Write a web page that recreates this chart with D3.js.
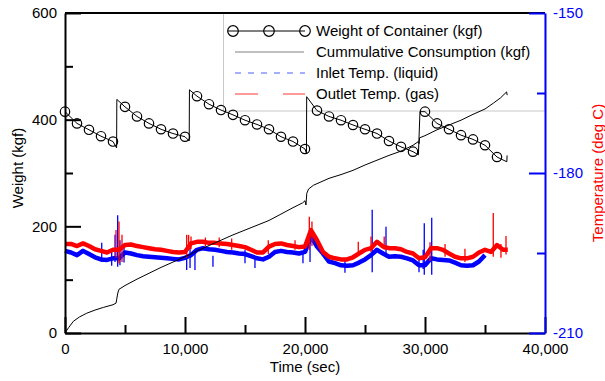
<!DOCTYPE html>
<html>
<head>
<meta charset="utf-8">
<script src="https://cdn.jsdelivr.net/npm/d3@7"></script>
<style>
  body { margin: 0; background: #fff; }
  svg { font-family: "Liberation Sans", Arial, sans-serif; }
</style>
</head>
<body>
<svg id="chart" width="605" height="381"></svg>
<script>
// weight of container (kgf): [time, weight]; markers sit on every 1000 s sample
const weightPoints = [
  [0, 415], [1000, 393], [2000, 381], [3000, 369], [4000, 359], [4300, 347],
  [4320, 438], [5000, 424], [6000, 406], [7000, 393], [8000, 382], [9000, 374],
  [10000, 368], [10350, 360], [10370, 456], [11000, 444], [12000, 429], [13000, 418],
  [14000, 409], [15000, 399], [16000, 391], [17000, 382], [18000, 368], [19000, 359],
  [20000, 345], [20120, 337], [20140, 443], [21000, 417], [22000, 406], [23000, 399],
  [24000, 390], [25000, 382], [26000, 374], [27000, 360], [28000, 349], [29000, 340],
  [29450, 334], [29580, 415], [30000, 415], [31000, 393], [32000, 382], [33000, 371],
  [34000, 363], [35000, 352], [36000, 330], [36820, 321], [36840, 333]
];

// cummulative consumption (kgf): [time, kgf]
const consumption = [
  [0, 0], [300, 10], [700, 22], [1200, 30], [1800, 37], [2500, 43], [3200, 48],
  [4000, 53], [4250, 56], [4300, 62], [4400, 75], [4500, 82], [5000, 89], [6000, 101],
  [7000, 112], [8000, 123], [9000, 133], [10000, 143], [10500, 148], [11000, 154],
  [12000, 164], [13000, 174], [14000, 184], [15000, 193], [16000, 202], [17000, 211],
  [18000, 223], [19000, 235], [19800, 244], [20000, 248], [20080, 240], [20150, 262],
  [20300, 270], [20700, 277], [21500, 285], [22000, 290], [23000, 297], [24000, 305],
  [25000, 315], [26000, 324], [27000, 333], [28000, 341], [29000, 352], [29450, 359],
  [29500, 355], [29550, 366], [30000, 370], [31000, 381], [32000, 390], [33000, 399],
  [34000, 410], [35000, 420], [35700, 431], [36300, 441], [36800, 452], [36850, 446]
];

// temperatures (deg C) read every 500 s
const tempStep = 500;
const inletTemp = [
  -194.6, -194.9, -195.4, -194.6, -195.2, -195.8, -196.2, -196.3, -196.0, -196.0,
  -194.9, -195.1, -195.4, -195.6, -195.7, -195.8, -195.9, -196.0, -196.1, -196.2,
  -195.9, -195.4, -194.4, -194.1, -194.3, -194.4, -194.6, -194.8, -194.9, -195.1,
  -195.2, -195.6, -196.0, -196.2, -195.7, -194.8, -194.6, -194.8, -194.9, -195.1,
  -194.8, -191.9, -193.8, -195.1, -196.6, -196.9, -197.3, -197.4, -197.3, -196.8,
  -196.2, -195.4, -194.4, -195.1, -195.7, -195.6, -195.7, -196.0, -196.4, -197.3,
  -197.3, -196.0, -196.2, -196.3, -196.4, -196.8, -197.3, -197.4, -197.3, -196.6,
  -195.4
];
const outletTemp = [
  -193.3, -193.3, -193.7, -193.2, -193.7, -194.3, -194.6, -194.9, -194.4, -194.4,
  -193.5, -193.4, -193.7, -193.9, -194.1, -194.3, -194.4, -194.6, -194.8, -194.9,
  -194.8, -193.2, -192.9, -192.9, -193.1, -193.1, -193.2, -193.3, -193.5, -193.7,
  -193.9, -194.4, -194.9, -194.9, -193.8, -193.3, -193.2, -193.5, -193.7, -193.9,
  -193.8, -190.7, -192.6, -194.8, -195.7, -196.0, -196.2, -196.2, -195.8, -195.1,
  -194.4, -194.1, -192.9, -193.8, -194.1, -194.1, -194.3, -194.8, -195.1, -196.0,
  -195.8, -194.1, -194.1, -194.4, -195.1, -195.7, -196.0, -196.0, -195.7, -194.9,
  -194.4, -194.8, -193.5, -194.4
];
const outletEnd = [36900, -194.4];

// spikes: [time, low, high]
const inletSpikes = [
  [3060, -196.7, -193.1], [3890, -197.4, -194.4], [4170, -196.7, -191.6], [4390, -197.6, -187.9],
  [4580, -197.3, -192.6], [4920, -196.8, -193.8], [10140, -198.2, -195.8], [10420, -197.8, -194.0],
  [10830, -198.2, -194.8], [12330, -197.6, -195.5], [15000, -196.9, -194.4], [15830, -197.8, -195.8],
  [19830, -196.9, -194.8], [20420, -196.7, -191.1], [23330, -198.7, -196.3], [25600, -198.6, -186.9],
  [26750, -195.8, -190.1], [29500, -198.6, -196.0], [29850, -198.0, -194.4], [29940, -199.1, -189.4],
  [30560, -199.1, -188.4]
];
const outletSpikes = [
  [4250, -195.9, -190.7], [4500, -196.9, -189.1], [4750, -196.7, -191.6], [10140, -195.9, -191.6],
  [10300, -194.4, -191.6], [10500, -194.3, -191.9], [11700, -193.7, -192.1], [12850, -193.9, -192.1],
  [13890, -194.4, -192.3], [16940, -195.2, -192.6], [19170, -194.4, -192.6], [20360, -194.4, -188.2],
  [20580, -193.7, -189.1], [24440, -195.0, -192.9], [25500, -194.8, -191.9], [26600, -194.4, -191.9],
  [30420, -196.5, -193.0], [31670, -195.7, -193.3], [33330, -196.7, -194.2], [35690, -195.7, -187.5],
  [36330, -195.9, -193.3], [36750, -195.3, -191.8]
];

const xTicks = [0, 10000, 20000, 30000, 40000];
const xMinor = [5000, 15000, 25000, 35000];
const wTicks = [0, 200, 400, 600];
const wMinor = [100, 300, 500];
const tTicks = [-210, -180, -150];
const tMinor = [-195, -165];
const legendLabels = ["Weight of Container (kgf)", "Cummulative Consumption (kgf)",
  "Inlet Temp. (liquid)", "Outlet Temp. (gas)"];

const svg = d3.select("#chart");
const mLeft = 65, mRight = 545, mTop = 13, mBottom = 333;

const x = d3.scaleLinear().domain([0, 40000]).range([mLeft, mRight]);
const yW = d3.scaleLinear().domain([0, 600]).range([mBottom, mTop]);
const yT = d3.scaleLinear().domain([-210, -150]).range([mBottom, mTop]);

// legend box (behind data)
const lg = svg.append("g");
lg.append("rect")
  .attr("x", 223.5).attr("y", mTop).attr("width", mRight - 223.5).attr("height", 98)
  .attr("fill", "none").attr("stroke", "#c8c8c8").attr("stroke-width", 1);

const rowY = [31, 52, 73, 94];
lg.append("line").attr("x1", 228).attr("x2", 305).attr("y1", rowY[0]).attr("y2", rowY[0])
  .attr("stroke", "#000").attr("stroke-width", 1);
[233, 269, 305].forEach(cx => {
  lg.append("circle").attr("cx", cx).attr("cy", rowY[0]).attr("r", 5.3)
    .attr("fill", "none").attr("stroke", "#000").attr("stroke-width", 1.2);
});
lg.append("line").attr("x1", 235).attr("x2", 304).attr("y1", rowY[1]).attr("y2", rowY[1])
  .attr("stroke", "#808080").attr("stroke-width", 1.2);
lg.append("line").attr("x1", 235).attr("x2", 305).attr("y1", rowY[2]).attr("y2", rowY[2])
  .attr("stroke", "#4a5cff").attr("stroke-width", 1).attr("stroke-dasharray", "6,7");
lg.append("line").attr("x1", 235).attr("x2", 305).attr("y1", rowY[3]).attr("y2", rowY[3])
  .attr("stroke", "#ff7a7a").attr("stroke-width", 1.5).attr("stroke-dasharray", "23,25");
legendLabels.forEach((s, i) => {
  lg.append("text").attr("x", 316).attr("y", rowY[i]).attr("dy", "0.36em")
    .attr("font-size", 15).attr("fill", "#000").text(s);
});

// temperatures
const inletPts = inletTemp.map((v, i) => [i * tempStep, v]);
const outletPts = outletTemp.map((v, i) => [i * tempStep, v]).concat([outletEnd]);
const tLine = d3.line().x(d => x(d[0])).y(d => yT(d[1]));

function spikes(data, color) {
  svg.append("g").selectAll("line").data(data).enter().append("line")
    .attr("x1", d => x(d[0])).attr("x2", d => x(d[0]))
    .attr("y1", d => yT(d[1])).attr("y2", d => yT(d[2]))
    .attr("stroke", color).attr("stroke-width", 1.3);
}

svg.append("path").datum(inletPts).attr("d", tLine)
  .attr("fill", "none").attr("stroke", "#0000ff").attr("stroke-width", 4.5)
  .attr("stroke-linejoin", "round");
spikes(inletSpikes, "#0000ff");
svg.append("path").datum(outletPts).attr("d", tLine)
  .attr("fill", "none").attr("stroke", "#ff0000").attr("stroke-width", 4.5)
  .attr("stroke-linejoin", "round");
spikes(outletSpikes, "#ff0000");

// consumption and weight
const wLine = d3.line().x(d => x(d[0])).y(d => yW(d[1]));
svg.append("path").datum(consumption).attr("d", wLine)
  .attr("fill", "none").attr("stroke", "#000").attr("stroke-width", 1);
svg.append("path").datum(weightPoints).attr("d", wLine)
  .attr("fill", "none").attr("stroke", "#000").attr("stroke-width", 1);
svg.append("g").selectAll("circle")
  .data(weightPoints.filter(d => d[0] % 1000 === 0))
  .enter().append("circle")
  .attr("cx", d => x(d[0])).attr("cy", d => yW(d[1])).attr("r", 4.7)
  .attr("fill", "none").attr("stroke", "#000").attr("stroke-width", 1.2);

// axes
function styleAxis(g, color) {
  g.selectAll("path.domain").attr("stroke", color).attr("stroke-width", 2);
  g.selectAll(".tick line").attr("stroke", color).attr("stroke-width", 2);
  g.selectAll(".tick text").attr("fill", color).attr("font-size", 15)
    .attr("font-family", "Liberation Sans, Arial, sans-serif");
}

// top border
svg.append("line").attr("x1", mLeft).attr("x2", mRight).attr("y1", mTop).attr("y2", mTop)
  .attr("stroke", "#000").attr("stroke-width", 2);

const gx = svg.append("g").attr("transform", `translate(0,${mBottom})`)
  .call(d3.axisBottom(x).tickValues(xTicks).tickSize(-16).tickSizeOuter(0)
    .tickPadding(10).tickFormat(d3.format(",")));
styleAxis(gx, "#000");
const gxm = svg.append("g").attr("transform", `translate(0,${mBottom})`)
  .call(d3.axisBottom(x).tickValues(xMinor).tickSize(-8).tickSizeOuter(0).tickFormat(""));
styleAxis(gxm, "#000");
gxm.select("path.domain").remove();

const gy = svg.append("g").attr("transform", `translate(${mLeft},0)`)
  .call(d3.axisLeft(yW).tickValues(wTicks).tickSize(-16).tickSizeOuter(0).tickPadding(8));
styleAxis(gy, "#000");
const gym = svg.append("g").attr("transform", `translate(${mLeft},0)`)
  .call(d3.axisLeft(yW).tickValues(wMinor).tickSize(-8).tickSizeOuter(0).tickFormat(""));
styleAxis(gym, "#000");
gym.select("path.domain").remove();

const gt = svg.append("g").attr("transform", `translate(${mRight},0)`)
  .call(d3.axisRight(yT).tickValues(tTicks).tickSize(-16).tickSizeOuter(0).tickPadding(8)
    .tickFormat(d => String(d)));
styleAxis(gt, "#0000ff");
const gtm = svg.append("g").attr("transform", `translate(${mRight},0)`)
  .call(d3.axisRight(yT).tickValues(tMinor).tickSize(-8).tickSizeOuter(0).tickFormat(""));
styleAxis(gtm, "#0000ff");
gtm.select("path.domain").remove();

// axis titles
svg.append("text").attr("x", (mLeft + mRight) / 2).attr("y", 372)
  .attr("text-anchor", "middle").attr("font-size", 15).text("Time (sec)");
svg.append("text").attr("transform", "translate(23,168) rotate(-90)")
  .attr("text-anchor", "middle").attr("font-size", 15).text("Weight (kgf)");
svg.append("text").attr("transform", "translate(603,173) rotate(-90)")
  .attr("text-anchor", "middle").attr("font-size", 15).attr("fill", "#ff0000")
  .text("Temperature (deg C)");
</script>
</body>
</html>
